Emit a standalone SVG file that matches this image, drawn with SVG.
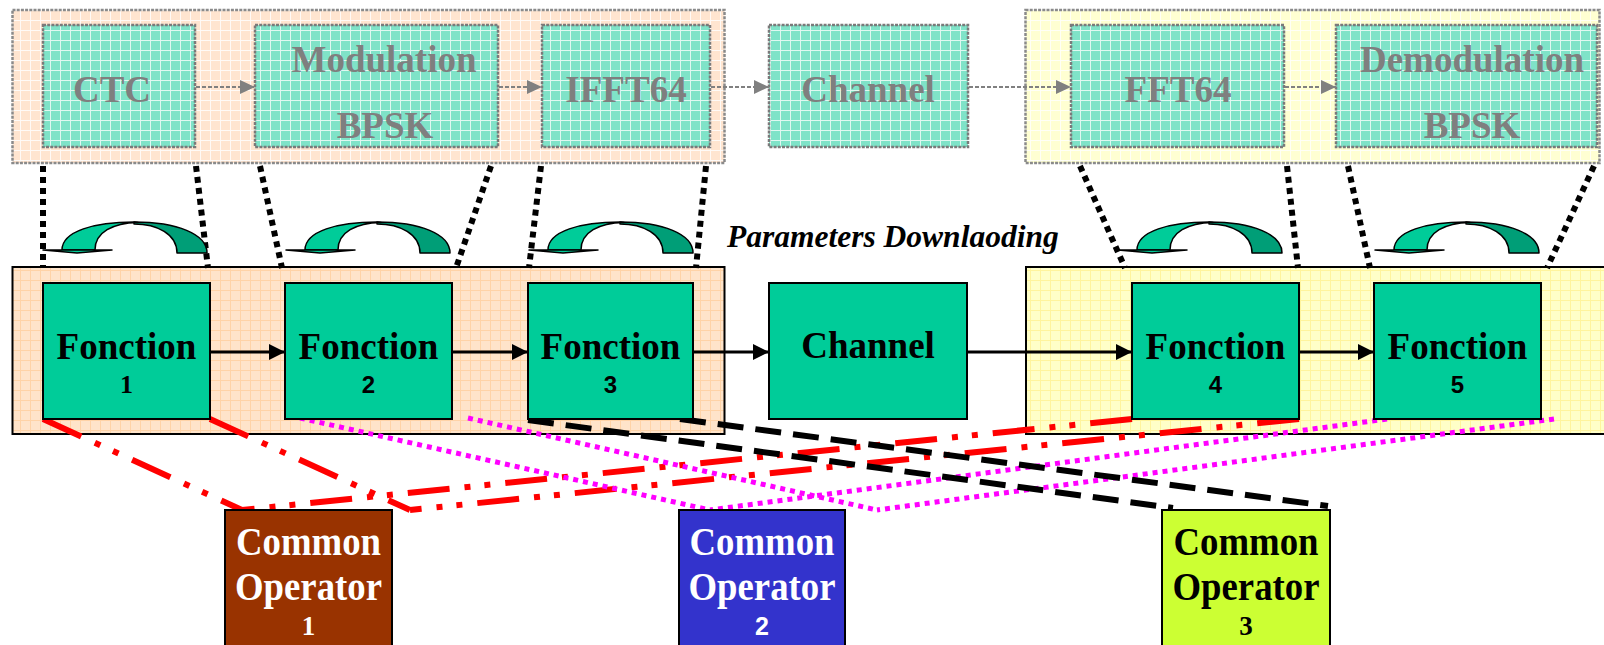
<svg xmlns="http://www.w3.org/2000/svg" width="1604" height="645" viewBox="0 0 1604 645">
<style>
.tg{font-family:"Liberation Serif","Times New Roman",serif;font-weight:bold;font-size:37px;fill:#7f7f7f;text-anchor:middle}
.tb{font-family:"Liberation Serif","Times New Roman",serif;font-weight:bold;font-size:37px;fill:#000;text-anchor:middle}
.ns{font-family:"Liberation Sans",Arial,sans-serif;font-weight:bold;font-size:24px;fill:#000;text-anchor:middle}
.nr{font-family:"Liberation Serif","Times New Roman",serif;font-weight:bold;font-size:26px;fill:#000;text-anchor:middle}
.co{font-family:"Liberation Serif","Times New Roman",serif;font-weight:bold;font-size:39px;text-anchor:middle}
.topbox{fill:url(#pTeal);stroke:#7a7a7a;stroke-width:2.5;stroke-dasharray:3 1.2}
.toppanel{stroke:#8a8a8a;stroke-width:2.5;stroke-dasharray:3 1.2}
.fbox{fill:#00CC99;stroke:#000;stroke-width:2}
.garr{stroke:#808080;stroke-width:2;stroke-dasharray:4 2;fill:none;marker-end:url(#mg)}
.barr{stroke:#000;stroke-width:3;fill:none;marker-end:url(#mb)}
.pdot{stroke:#000;stroke-width:6;stroke-dasharray:6 5;fill:none}
.red{stroke:#FF0000;stroke-width:6;stroke-dasharray:42 15 6 14 6 15;fill:none}
.mag{stroke:#FF00FF;stroke-width:5;stroke-dasharray:5 5;fill:none}
.blk{stroke:#000;stroke-width:6;stroke-dasharray:26 12;fill:none}
</style>
<defs>
<pattern id="pTopO" width="10" height="10" patternUnits="userSpaceOnUse"><rect width="10" height="10" fill="#FFE5D0"/><path d="M0 0.5H10M0.5 0V10" stroke="#fff" stroke-width="1" opacity="0.8"/></pattern>
<pattern id="pTopY" width="10" height="10" patternUnits="userSpaceOnUse"><rect width="10" height="10" fill="#FFFFD2"/><path d="M0 0.5H10M0.5 0V10" stroke="#fff" stroke-width="1" opacity="0.8"/></pattern>
<pattern id="pTeal" width="10" height="10" patternUnits="userSpaceOnUse"><rect width="10" height="10" fill="#7FE3C8"/><path d="M0 0.5H10M0.5 0V10" stroke="#fff" stroke-width="1" opacity="0.75"/></pattern>
<pattern id="pBotO" width="10" height="10" patternUnits="userSpaceOnUse"><rect width="10" height="10" fill="#FFE4CA"/><path d="M0 0.5H10M0.5 0V10" stroke="#FFCC99" stroke-width="1" opacity="0.7"/></pattern>
<pattern id="pBotY" width="10" height="10" patternUnits="userSpaceOnUse"><rect width="10" height="10" fill="#FFFFC8"/><path d="M0 0.5H10M0.5 0V10" stroke="#FFF08A" stroke-width="1" opacity="0.7"/></pattern>
<marker id="mg" markerWidth="16" markerHeight="16" refX="15" refY="8" orient="auto" markerUnits="userSpaceOnUse"><path d="M0,1 L15,8 L0,15 Z" fill="#808080"/></marker>
<marker id="mb" markerWidth="17" markerHeight="17" refX="16" refY="8" orient="auto" markerUnits="userSpaceOnUse"><path d="M0,0 L16,8 L0,16 Z" fill="#000"/></marker>
<g id="curv" stroke="#000" stroke-width="1.5" stroke-linejoin="round">
<path d="M91,-31 C134,-31 164,-19 164,0 L134,0 C134,-19 114,-29 91,-29 Z" fill="#009E77"/>
<path d="M19,-3 C19,-22 52,-31 91,-31 L95,-30.5 C70,-30 52,-21 52,-3 Z" fill="#00CC99"/>
<path d="M0,-3 L69,-3 L34,0 Z" fill="#00CC99"/>
</g>
</defs>
<rect width="1604" height="645" fill="#fff"/>

<g id="panels">
<rect class="toppanel" x="12.5" y="10" width="712" height="153" fill="url(#pTopO)"/>
<rect class="toppanel" x="1025.5" y="10" width="574" height="153" fill="url(#pTopY)"/>
<rect x="12.5" y="267" width="712" height="167" fill="url(#pBotO)" stroke="#000" stroke-width="2"/>
<rect x="1026" y="267" width="580" height="167" fill="url(#pBotY)" stroke="#000" stroke-width="2"/>
</g>

<g id="top-ctc"><rect class="topbox" x="43" y="25" width="152" height="122"/><text class="tg" x="112" y="102">CTC</text></g>
<g id="top-modulation"><rect class="topbox" x="255" y="25" width="243" height="122"/><text class="tg" x="384" y="72">Modulation</text><text class="tg" x="385" y="138">BPSK</text></g>
<g id="top-ifft64"><rect class="topbox" x="542" y="25" width="168" height="122"/><text class="tg" x="626" y="102">IFFT64</text></g>
<g id="top-channel"><rect class="topbox" x="769" y="25" width="199" height="122"/><text class="tg" x="868" y="102">Channel</text></g>
<g id="top-fft64"><rect class="topbox" x="1071" y="25" width="213" height="122"/><text class="tg" x="1178" y="102">FFT64</text></g>
<g id="top-demodulation"><rect class="topbox" x="1336" y="25" width="261" height="122"/><text class="tg" x="1472" y="72">Demodulation</text><text class="tg" x="1472" y="138">BPSK</text></g>

<g id="connectors">
<line class="garr" x1="196" y1="87" x2="255" y2="87"/>
<line class="garr" x1="499" y1="87" x2="542" y2="87"/>
<line class="garr" x1="711" y1="87" x2="769" y2="87"/>
<line class="garr" x1="969" y1="87" x2="1071" y2="87"/>
<line class="garr" x1="1285" y1="87" x2="1336" y2="87"/>

<line class="pdot" x1="43" y1="166" x2="43" y2="268"/>
<line class="pdot" x1="196" y1="166" x2="208" y2="268"/>
<line class="pdot" x1="260" y1="166" x2="282" y2="268"/>
<line class="pdot" x1="491" y1="166" x2="456" y2="268"/>
<line class="pdot" x1="541" y1="166" x2="529" y2="268"/>
<line class="pdot" x1="706" y1="166" x2="696" y2="268"/>
<line class="pdot" x1="1080" y1="166" x2="1125" y2="268"/>
<line class="pdot" x1="1287" y1="166" x2="1298" y2="268"/>
<line class="pdot" x1="1348" y1="166" x2="1370" y2="268"/>
<line class="pdot" x1="1594" y1="166" x2="1547" y2="268"/>

<line class="barr" x1="210" y1="352" x2="285" y2="352"/>
<line class="barr" x1="452" y1="352" x2="528" y2="352"/>
<line class="barr" x1="693" y1="352" x2="769" y2="352"/>
<line class="barr" x1="967" y1="352" x2="1132" y2="352"/>
<line class="barr" x1="1299" y1="352" x2="1374" y2="352"/>

<line class="red" x1="43" y1="419" x2="242" y2="510"/>
<line class="red" x1="210" y1="419" x2="410" y2="510"/>
<line class="red" x1="1132" y1="419" x2="242" y2="510"/>
<line class="red" x1="1299" y1="419" x2="410" y2="510"/>
<line class="mag" x1="300" y1="418" x2="710" y2="510"/>
<line class="mag" x1="468" y1="418" x2="877" y2="510"/>
<line class="mag" x1="1387" y1="419" x2="710" y2="510"/>
<line class="mag" x1="1554" y1="419" x2="877" y2="510"/>
<line class="blk" x1="528" y1="420" x2="1173" y2="508"/>
<line class="blk" x1="680" y1="419" x2="1328" y2="506"/>
</g>

<g id="param-arrows">
<use href="#curv" x="43" y="253"/>
<use href="#curv" x="286" y="253"/>
<use href="#curv" x="529" y="253"/>
<use href="#curv" x="1118" y="253"/>
<use href="#curv" x="1375" y="253"/>
</g>
<text id="param-label" x="727" y="247" style="font-family:'Liberation Serif','Times New Roman',serif;font-weight:bold;font-style:italic;font-size:31.5px;fill:#000">Parameters Downlaoding</text>

<g id="fonction1"><rect class="fbox" x="43" y="283" width="167" height="136"/><text class="tb" x="126.5" y="359">Fonction</text><text class="nr" x="126.5" y="393">1</text></g>
<g id="fonction2"><rect class="fbox" x="285" y="283" width="167" height="136"/><text class="tb" x="368.5" y="359">Fonction</text><text class="ns" x="368.5" y="393">2</text></g>
<g id="fonction3"><rect class="fbox" x="528" y="283" width="165" height="136"/><text class="tb" x="610.5" y="359">Fonction</text><text class="ns" x="610.5" y="393">3</text></g>
<g id="channel"><rect class="fbox" x="769" y="283" width="198" height="136"/><text class="tb" x="868" y="358">Channel</text></g>
<g id="fonction4"><rect class="fbox" x="1132" y="283" width="167" height="136"/><text class="tb" x="1215.5" y="359">Fonction</text><text class="ns" x="1215.5" y="393">4</text></g>
<g id="fonction5"><rect class="fbox" x="1374" y="283" width="167" height="136"/><text class="tb" x="1457.5" y="359">Fonction</text><text class="ns" x="1457.5" y="393">5</text></g>

<g id="common-operator-1"><rect x="225" y="510" width="167" height="140" fill="#993300" stroke="#000" stroke-width="2"/><text class="co" x="308.5" y="555" fill="#fff" textLength="145" lengthAdjust="spacingAndGlyphs">Common</text><text class="co" x="308.5" y="600" fill="#fff" textLength="147" lengthAdjust="spacingAndGlyphs">Operator</text><text class="co" x="308.5" y="635" fill="#fff" style="font-size:27px">1</text></g>
<g id="common-operator-2"><rect x="679" y="510" width="166" height="140" fill="#3333CC" stroke="#000" stroke-width="2"/><text class="co" x="762" y="555" fill="#fff" textLength="145" lengthAdjust="spacingAndGlyphs">Common</text><text class="co" x="762" y="600" fill="#fff" textLength="147" lengthAdjust="spacingAndGlyphs">Operator</text><text class="ns" x="762" y="635" style="fill:#fff;font-size:25px">2</text></g>
<g id="common-operator-3"><rect x="1162" y="510" width="168" height="140" fill="#CCFF33" stroke="#000" stroke-width="2"/><text class="co" x="1246" y="555" fill="#000" textLength="145" lengthAdjust="spacingAndGlyphs">Common</text><text class="co" x="1246" y="600" fill="#000" textLength="147" lengthAdjust="spacingAndGlyphs">Operator</text><text class="co" x="1246" y="635" fill="#000" style="font-size:27px">3</text></g>
</svg>
